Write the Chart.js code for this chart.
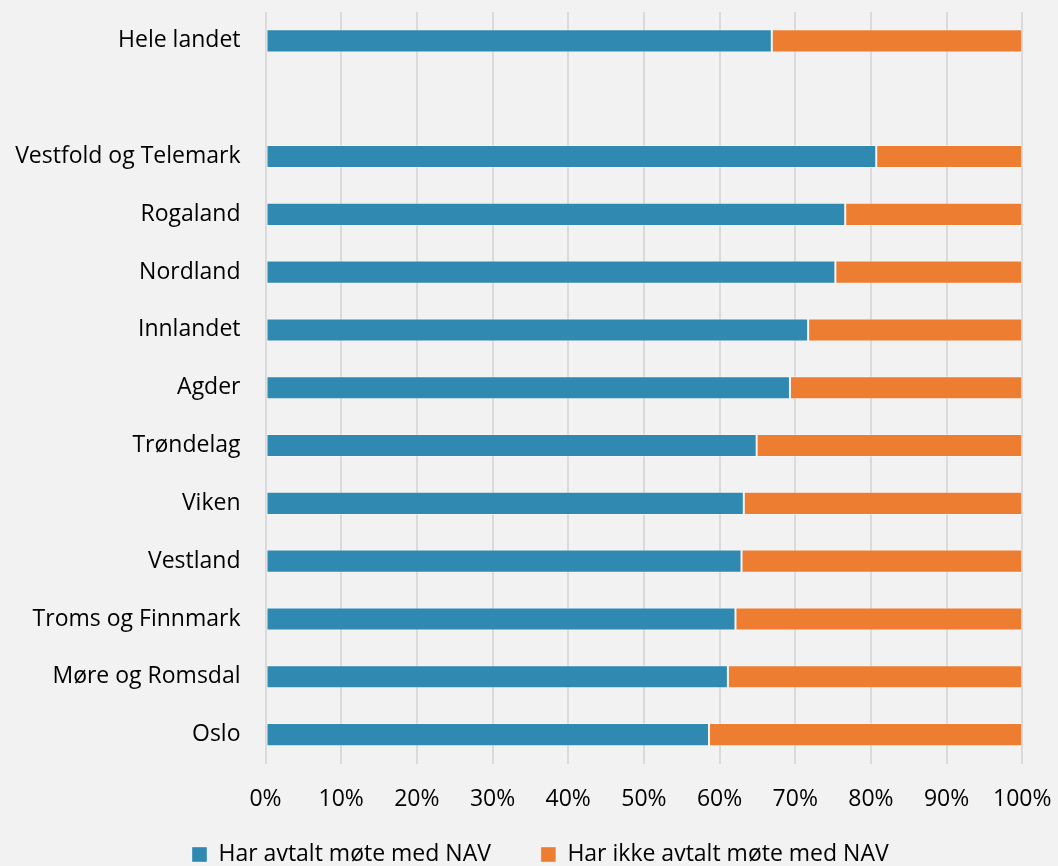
<!DOCTYPE html>
<html>
<head>
<meta charset="utf-8">
<script src="https://cdn.jsdelivr.net/npm/chart.js@4/dist/chart.umd.min.js"></script>
<style>
  html, body { margin: 0; padding: 0; background: #F2F2F2; overflow: hidden; }
  #wrap { position: relative; width: 1058px; height: 876px; }
</style>
</head>
<body>
<div id="wrap"><canvas id="c"></canvas></div>
<script>
const categories = ["Hele landet", "", "Vestfold og Telemark", "Rogaland", "Nordland", "Innlandet", "Agder", "Trøndelag", "Viken", "Vestland", "Troms og Finnmark", "Møre og Romsdal", "Oslo"];
const harAvtalt = [66.9, null, 80.7, 76.6, 75.3, 71.7, 69.3, 64.9, 63.2, 62.9, 62.1, 61.1, 58.6];
const harIkkeAvtalt = [33.1, null, 19.3, 23.4, 24.7, 28.3, 30.7, 35.1, 36.8, 37.1, 37.9, 38.9, 41.4];
const seriesNames = ["Har avtalt møte med NAV", "Har ikke avtalt møte med NAV"];
const xTicks = [0, 10, 20, 30, 40, 50, 60, 70, 80, 90, 100];

const FONT = "'Open Sans', 'Liberation Sans', sans-serif";
const FSIZE = 23;
const LEGEND_START_X = 192;

const legendShift = {
  id: 'legendShift',
  afterLayout(chart) {
    const lg = chart.legend;
    if (!lg || !lg.lineWidths) return;
    const pad = lg.options.labels.padding;
    const startX = (lg.left + pad + lg.right - lg.lineWidths[0]) / 2;
    const shift = LEGEND_START_X - startX;
    lg.left += shift; lg.right += shift;
  }
};

new Chart(document.getElementById('c'), {
  type: 'bar',
  data: {
    labels: categories,
    datasets: [
      { label: seriesNames[0], data: harAvtalt, backgroundColor: '#2F89B1', borderColor: 'rgba(255,255,255,0.35)', borderWidth: 1, borderSkipped: false },
      { label: seriesNames[1], data: harIkkeAvtalt, backgroundColor: '#ED7D31', borderColor: 'rgba(255,255,255,0.35)', borderWidth: 1, borderSkipped: false }
    ]
  },
  options: {
    indexAxis: 'y',
    responsive: true,
    maintainAspectRatio: false,
    animation: false,
    layout: { padding: { top: 12, right: 35.7, left: 0, bottom: 0 } },
    datasets: { bar: { barPercentage: 0.4, categoryPercentage: 1.0 } },
    scales: {
      x: {
        stacked: true,
        min: 0, max: 100,
        afterBuildTicks(scale) { scale.ticks = xTicks.map(v => ({ value: v })); },
        afterFit(scale) {
          scale.height = 29.5;
          scale.paddingLeft = 0; scale.paddingRight = 0;
          scale._computeLabelArea = () => undefined;
        },
        border: { display: false },
        grid: { color: '#DADADA', lineWidth: 2, drawTicks: false },
        ticks: {
          padding: 22,
          color: '#000',
          font: { family: FONT, size: FSIZE },
          callback: v => v + '%',
          maxRotation: 0,
          autoSkip: false
        }
      },
      y: {
        stacked: true,
        afterFit(scale) {
          scale.width = 265.5;
          scale.paddingTop = 0; scale.paddingBottom = 0;
        },
        border: { display: false },
        grid: { display: false, drawTicks: false },
        ticks: {
          padding: 25,
          color: '#000',
          font: { family: FONT, size: FSIZE },
          autoSkip: false
        }
      }
    },
    plugins: {
      legend: {
        position: 'bottom',
        labels: {
          boxWidth: 15,
          boxHeight: 15,
          padding: 50,
          color: '#000',
          font: { family: FONT, size: FSIZE }
        }
      },
      tooltip: { enabled: false }
    }
  },
  plugins: [legendShift]
});
</script>
</body>
</html>
